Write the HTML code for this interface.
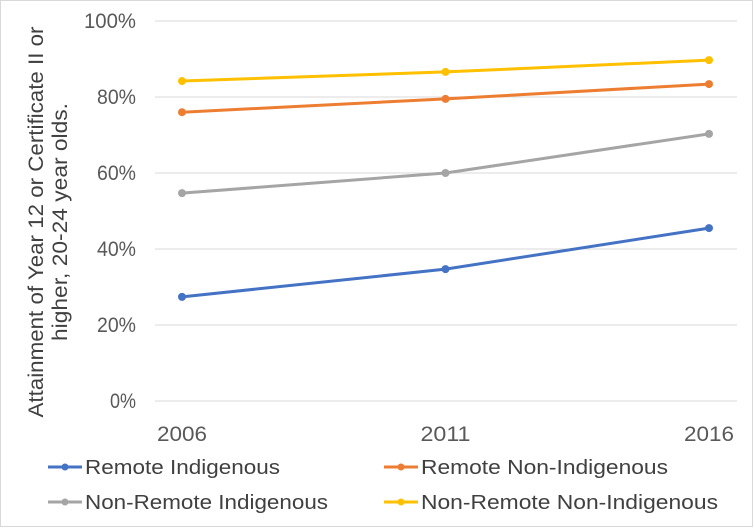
<!DOCTYPE html>
<html><head><meta charset="utf-8"><style>
body{margin:0;background:#fff}
svg{display:block;font-family:"Liberation Sans",Arial,sans-serif}
</style></head><body>
<svg width="754" height="528" viewBox="0 0 754 528">
<rect x="0.5" y="0.5" width="752" height="526" fill="#fff" stroke="#d9d9d9"/>
<g id="grid"></g>
<g id="yticks"></g>
<g id="xticks"></g>
<g id="series"></g>
<text transform="translate(43,222) rotate(-90)" text-anchor="middle" font-size="21" fill="#404040"><tspan x="0" dy="0" textLength="391" lengthAdjust="spacingAndGlyphs">Attainment of Year 12 or Certificate II or</tspan><tspan x="0" dy="24" textLength="238" lengthAdjust="spacingAndGlyphs">higher, 20-24 year olds.</tspan></text>
<g id="legend"></g>
</svg>
<script>
const years=["2006","2011","2016"];
const yTicks=[0,20,40,60,80,100];
const seriesNames=["Remote Indigenous","Remote Non-Indigenous","Non-Remote Indigenous","Non-Remote Non-Indigenous"];
const remoteIndigenous=[27.4,34.7,45.5];
const remoteNonIndigenous=[76,79.5,83.4];
const nonRemoteIndigenous=[54.7,60,70.3];
const nonRemoteNonIndigenous=[84.2,86.6,89.7];
const colors=["#4472c4","#ed7d31","#a5a5a5","#ffc000"];
const data=[remoteIndigenous,remoteNonIndigenous,nonRemoteIndigenous,nonRemoteNonIndigenous];
const NS="http://www.w3.org/2000/svg";
function y(v){return 401-v*3.8;}
function x(i){return 182+i*(709-182)/(years.length-1);}
function mk(t,a,p){const e=document.createElementNS(NS,t);for(const k in a)e.setAttribute(k,a[k]);p.appendChild(e);return e;}
const g=document.getElementById('grid'),yt=document.getElementById('yticks'),xt=document.getElementById('xticks'),s=document.getElementById('series'),lg=document.getElementById('legend');
yTicks.forEach(v=>{
 const l=mk('line',{x1:155,x2:737,y1:y(v),y2:y(v),stroke:'#d9d9d9','stroke-width':1},g);
 
 
 const lab=v+'%';
 const t=mk('text',{x:136,y:y(v)+7,'text-anchor':'end','font-size':21,fill:'#595959',textLength:lab.length*13,lengthAdjust:'spacingAndGlyphs'},yt);
 t.textContent=lab;
 
 
});
years.forEach((yr,i)=>{
 const t=mk('text',{x:x(i),y:441,'text-anchor':'middle','font-size':21,fill:'#595959',textLength:50,lengthAdjust:'spacingAndGlyphs'},xt);
 t.textContent=yr;
 
 
});
data.forEach((d,si)=>{
 const pts=d.map((v,i)=>x(i)+','+y(v)).join(' ');
 const pl=mk('polyline',{points:pts,fill:'none',stroke:colors[si],'stroke-width':3,'stroke-linejoin':'round'},s);
 
 
 d.forEach((v,i)=>{
  const c=mk('circle',{cx:x(i),cy:y(v),r:4,fill:colors[si]},s);
  
  
 });
});
const lx=[48,384],ly=[467,502],lw=[195,247,243,297];
seriesNames.forEach((n,i)=>{
 const X=lx[i%2],Y=ly[Math.floor(i/2)];
 const gg=mk('g',{},lg);
 
 
 mk('line',{x1:X,x2:X+34,y1:Y,y2:Y,stroke:colors[i],'stroke-width':3},gg);
 mk('circle',{cx:X+17,cy:Y,r:3.5,fill:colors[i]},gg);
 const t=mk('text',{x:X+37,y:Y+7,'font-size':20,fill:'#404040',textLength:lw[i],lengthAdjust:'spacingAndGlyphs'},gg);
 t.textContent=n;
});
</script>
</body></html>
